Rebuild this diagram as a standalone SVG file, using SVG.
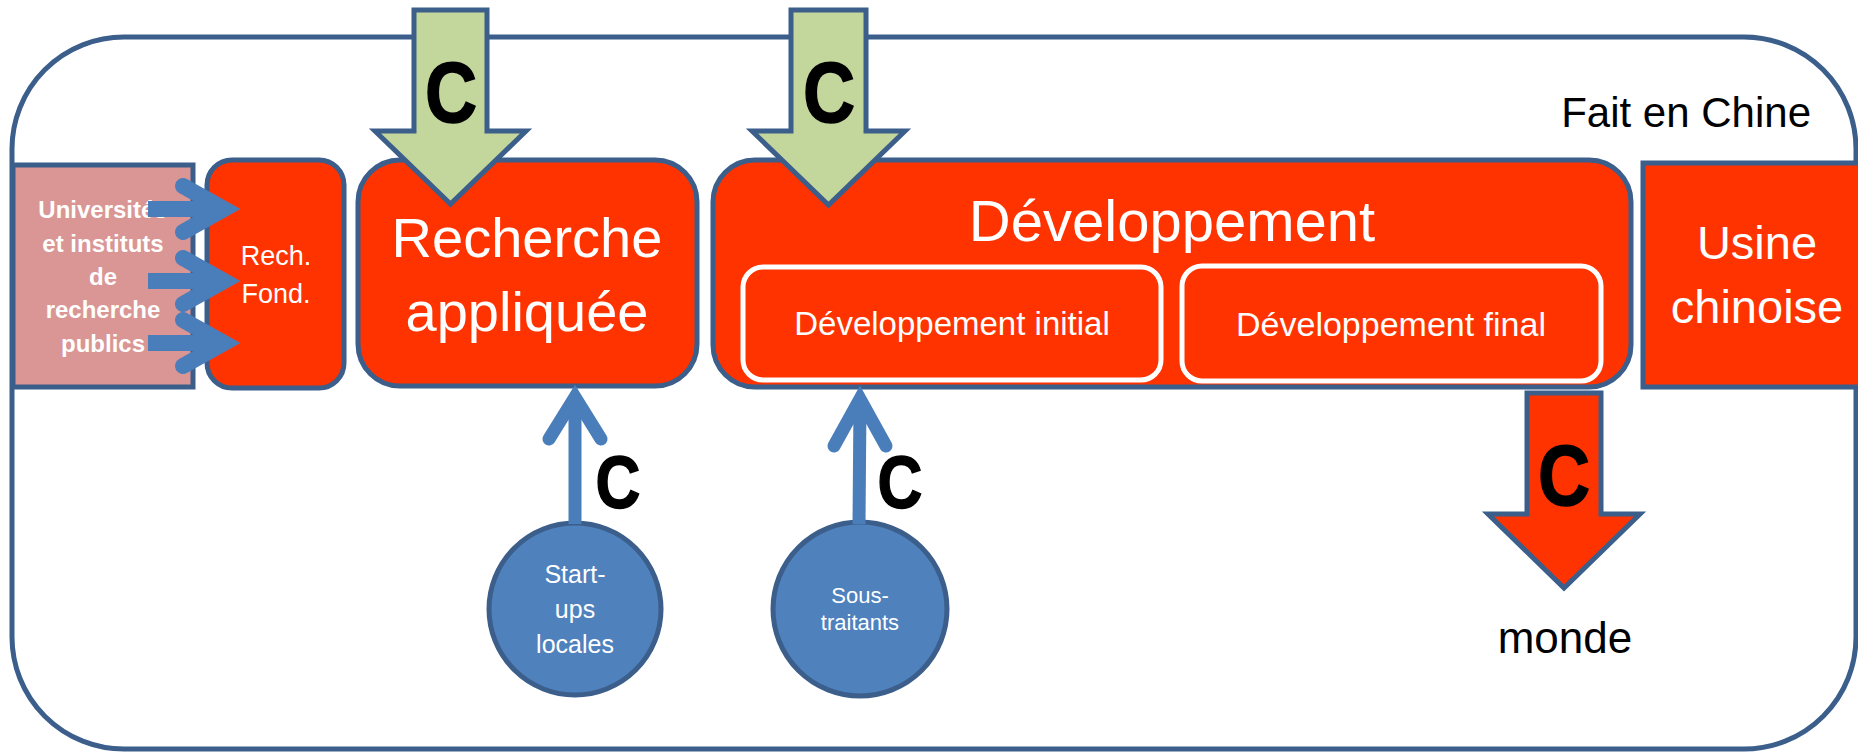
<svg xmlns="http://www.w3.org/2000/svg" width="1858" height="752" viewBox="0 0 1858 752">
<style>
.t{font-family:"Liberation Sans",Arial,sans-serif;text-anchor:middle}
.w{fill:#fff}
.k{fill:#000}
.b{font-weight:bold}
.box{fill:#FF3300;stroke:#3B5E8B;stroke-width:5}
.inner{fill:#FF3300;stroke:#fff;stroke-width:5}
.circ{fill:#4F81BD;stroke:#3B5E8B;stroke-width:5}
.big{fill:#C3D69B;stroke:#3B5E8B;stroke-width:5;stroke-linejoin:miter}
.bigr{fill:#FF3300;stroke:#3B5E8B;stroke-width:5;stroke-linejoin:miter}
.ln{fill:none;stroke:#4A7EBB;stroke-linejoin:miter}
.cc{stroke:#000;stroke-width:1.5}
</style>
<rect id="frame" x="12" y="37" width="1844" height="712" rx="112" fill="#fff" stroke="#3B5E8B" stroke-width="5"/>
<text class="t k" x="1811" y="127" font-size="42" style="text-anchor:end">Fait en Chine</text>

<g id="universites">
<rect x="13" y="165" width="180" height="222" fill="#D99694" stroke="#3B5E8B" stroke-width="5"/>
<text class="t w b" font-size="24"><tspan x="103" y="218">Universités</tspan><tspan x="103" y="252">et instituts</tspan><tspan x="103" y="285">de</tspan><tspan x="103" y="318">recherche</tspan><tspan x="103" y="352">publics</tspan></text>
</g>
<g id="rechfond">
<rect class="box" x="207" y="160" width="137" height="228" rx="25"/>
<text class="t w" font-size="27"><tspan x="276" y="265">Rech.</tspan><tspan x="276" y="303">Fond.</tspan></text>
</g>
<g id="recherche">
<rect class="box" x="358" y="160" width="339" height="226" rx="42"/>
<text class="t w" font-size="56"><tspan x="527" y="257">Recherche</tspan><tspan x="527" y="331">appliquée</tspan></text>
</g>
<g id="developpement">
<rect class="box" x="713" y="160" width="918" height="227" rx="42"/>
<text class="t w" x="1172" y="241" font-size="58">Développement</text>
<g id="dev-initial">
<rect class="inner" x="743" y="267" width="418" height="113" rx="20"/>
<text class="t w" x="952" y="335" font-size="33">Développement initial</text>
</g>
<g id="dev-final">
<rect class="inner" x="1182" y="266" width="419" height="115" rx="20"/>
<text class="t w" x="1391" y="336" font-size="34">Développement final</text>
</g>
</g>
<g id="usine">
<rect class="box" x="1643" y="163" width="240" height="224"/>
<text class="t w" font-size="47"><tspan x="1757" y="259">Usine</tspan><tspan x="1757" y="323">chinoise</tspan></text>
</g>
<g id="startups">
<circle class="circ" cx="575" cy="609" r="86"/>
<text class="t w" font-size="25"><tspan x="575" y="583">Start-</tspan><tspan x="575" y="618">ups</tspan><tspan x="575" y="653">locales</tspan></text>
</g>
<g id="soustraitants">
<circle class="circ" cx="860" cy="609" r="87"/>
<text class="t w" font-size="22"><tspan x="860" y="603">Sous-</tspan><tspan x="860" y="630">traitants</tspan></text>
</g>
<g id="monde">
<text class="t k" x="1565" y="653" font-size="44">monde</text>
</g>

<g id="connectors">
<g class="ln" stroke-width="16">
<path d="M148,209 H222" stroke-linecap="butt"/>
<path d="M183,186 L224,209 L183,232" stroke-linecap="round"/>
<path d="M148,281 H222" stroke-linecap="butt"/>
<path d="M183,258 L224,281 L183,304" stroke-linecap="round"/>
<path d="M148,343 H222" stroke-linecap="butt"/>
<path d="M183,320 L224,343 L183,366" stroke-linecap="round"/>
</g>
<g class="ln" stroke-width="13">
<path d="M575,524 V400"/>
<path d="M549,439 L575,397 L601,439" stroke-linecap="round"/>
<path d="M859,524 L860,402"/>
<path d="M834,446 L860,399 L886,446" stroke-linecap="round"/>
</g>
<polygon class="big" points="414,10 487,10 487,131 526,131 450.5,204 375,131 414,131"/>
<polygon class="big" points="791,10 866,10 866,131 905,131 828.5,205 752,131 791,131"/>
<polygon class="bigr" points="1527,393 1601,393 1601,514 1640,514 1564,588 1488,514 1527,514"/>
<g class="t k b cc">
<text transform="translate(451,122) scale(0.84,1)" font-size="86">C</text>
<text transform="translate(829,122) scale(0.84,1)" font-size="86">C</text>
<text transform="translate(1564,505) scale(0.84,1)" font-size="86">C</text>
<text transform="translate(618,508) scale(0.84,1)" font-size="74">C</text>
<text transform="translate(900,508) scale(0.84,1)" font-size="74">C</text>
</g>
</g>
</svg>
